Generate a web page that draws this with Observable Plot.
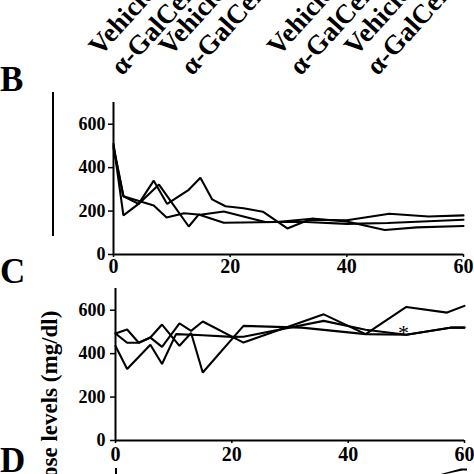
<!DOCTYPE html>
<html><head><meta charset="utf-8">
<script src="https://cdn.jsdelivr.net/npm/d3@7"></script>
<script src="https://cdn.jsdelivr.net/npm/@observablehq/plot@0.6"></script>
<style>
body{margin:0;background:#fff;}
#fig{position:relative;width:474px;height:474px;overflow:hidden;background:#fff;font-family:"Liberation Serif","Times New Roman",serif;color:#000;}
.panel{position:absolute;left:0;}
.letter{position:absolute;font-weight:bold;font-size:35px;line-height:1;}
#vbar{position:absolute;left:52px;top:92px;width:2px;height:144px;background:#000;}
#ylab{position:absolute;font-weight:bold;font-size:23px;white-space:nowrap;transform-origin:0 0;transform:rotate(-90deg);}
#dtick{position:absolute;left:115px;top:468px;width:2px;height:7px;background:#000;}
#dwedge{position:absolute;left:437px;top:467px;width:30px;height:8px;background:#000;clip-path:polygon(0 100%,80% 20%,100% 20%,100% 45%,85% 45%,12% 100%);}
</style></head><body><div id="fig"></div>
<script>
// Panel B: time (min) vs glucose (mg/dl)
const bTimes1 = [0,1.7,4.3,6.9,9.2,12.9,14.9,16.9,19.2,22.3,25.6,29.8,33.5,40,47.3,54,60];
const bGlucose1 = [510,180,233,340,233,298,353,254,222,213,197,120,160,158,188,175,180];
const bTimes2 = [0,1.7,6.9,9.1,12.1,14.9,18.9,26,33,40,47,60];
const bGlucose2 = [500,268,226,170,190,183,198,150,150,141,145,160];
const bTimes3 = [0,1.7,4.3,7.8,12.9,14.6,18.9,28,34,40,46.5,52,60];
const bGlucose3 = [490,268,233,322,129,184,146,150,165,152,113,125,131];
// Panel C
const cTimes1 = [0,2,4,6,8,11,13,15,22,35.8,43,50,57,60];
const cGlucose1 = [493,511,450,474,431,539,505,548,451,581,490,615,589,620];
const cTimes2 = [0,2,4,6,8,11,13,15,22,32,43,50,57.8,60];
const cGlucose2 = [493,450,450,474,534,436,495,313,528,520,490,487,520,520];
const cTimes3 = [0,2,6,8,10.4,15,20,22,35.8,43,50,57.8,60];
const cGlucose3 = [435,329,441,352,490,485,477,478,551,510,487,520,520];
// Treatment labels (time of treatment) and significance marker
const treatmentTimes = [1.5, 13.5, 32.1, 45.3];
const treatmentLabel = "Vehicle\nα-GalCer";
const sigTimes = [49.5];
const sigGlucose = [522];
const xTicks = [0,20,40,60];
const yTicks = [0,200,400,600];

function series(times, vals, id){ return times.map((t,i)=>({t, g: vals[i], id})); }
const bData = [...series(bTimes1,bGlucose1,1),...series(bTimes2,bGlucose2,2),...series(bTimes3,bGlucose3,3)];
const cData = [...series(cTimes1,cGlucose1,1),...series(cTimes2,cGlucose2,2),...series(cTimes3,cGlucose3,3)];

const serif = '"Liberation Serif","Times New Roman",serif';
const fig = document.getElementById("fig");

function panel(data, opts, extra){
  return Plot.plot({
    width: 474, height: opts.height,
    marginLeft: opts.ml, marginRight: opts.mr, marginTop: opts.mt, marginBottom: opts.mb,
    style: {fontFamily: serif, background: "transparent", color: "#000", overflow: "visible"},
    x: {domain: [0,60], axis: null},
    y: {domain: [0,700], axis: null},
    marks: [
      Plot.axisY({ticks: yTicks, tickSize: 5, tickPadding: opts.ytp, fontSize: 18, fontWeight: "bold", strokeWidth: 1.5, label: null}),
      Plot.axisX({ticks: xTicks, tickSize: 3, tickPadding: opts.xtp, fontSize: 20, fontWeight: "bold", strokeWidth: 1.5, label: null}),
      Plot.ruleX([0], {stroke: "#000", strokeWidth: 2}),
      Plot.ruleY([0], {stroke: "#000", strokeWidth: 2}),
      Plot.line(data, {x: "t", y: "g", z: "id", stroke: "#000", strokeWidth: 2.1, strokeLinejoin: "miter", curve: "linear"}),
      ...extra
    ]
  });
}

const svgB = panel(bData, {height: 280, ml: 113, mr: 11, mt: 102, mb: 26, ytp: 3, xtp: 1}, [
  Plot.text(treatmentTimes, {x: d => d, frameAnchor: "top", dy: -26, text: () => treatmentLabel,
    rotate: -48, textAnchor: "start", lineAnchor: "bottom", lineHeight: 1.1,
    fontSize: 27, fontWeight: "bold", fill: "#000"})
]);
svgB.classList.add("panel"); svgB.style.top = "0px";
fig.appendChild(svgB);

const svgC = panel(cData, {height: 200, ml: 115, mr: 10, mt: 18, mb: 30, ytp: 5, xtp: 3}, [
  Plot.text(sigTimes, {x: d => d, y: (d,i) => sigGlucose[i], text: () => "*", fontSize: 22, fill: "#000", dy: 6})
]);
svgC.classList.add("panel"); svgC.style.top = "270px";
fig.appendChild(svgC);

function addDiv(html, cls, id, style){
  const d = document.createElement("div");
  if (cls) d.className = cls; if (id) d.id = id;
  d.textContent = html; Object.assign(d.style, style || {});
  fig.appendChild(d); return d;
}
addDiv("B", "letter", null, {left: "0px", top: "62px"});
addDiv("C", "letter", null, {left: "0px", top: "254px"});
addDiv("D", "letter", null, {left: "0px", top: "443px"});
addDiv("", null, "vbar");
addDiv("", null, "dtick");
addDiv("", null, "dwedge");
addDiv("ose levels (mg/dl)", null, "ylab", {left: "37px", top: "478px"});
</script>
</body></html>
